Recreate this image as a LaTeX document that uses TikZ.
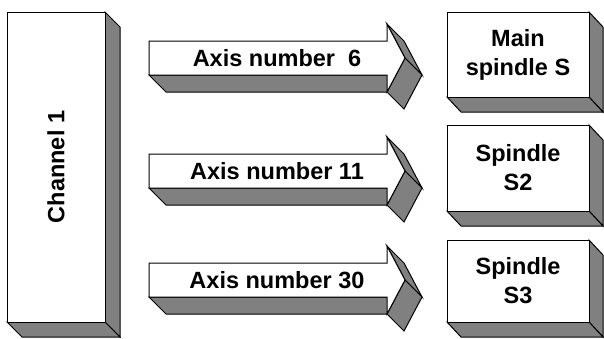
\documentclass[tikz,border=0pt]{standalone}
\usepackage{fontspec}
\setmainfont{Liberation Sans}
\usepackage{tikz}
\definecolor{sidegray}{RGB}{128,128,128}

\begin{document}
\begin{tikzpicture}[x=1pt, y=-1pt,
		frontface/.style={draw=black, fill=white, line width=1pt},
		sideface/.style={draw=black, fill=sidegray, line width=1pt},
		boldtext/.style={font=\fontsize{23.5}{29}\selectfont\bfseries, align=center, inner sep=0pt}]
		
		\useasboundingbox (0,0) rectangle (604,338);
		
		% Channel block (front face with its right and bottom sides)
		\draw[sideface] (105,12) -- (120,27) -- (120,337) -- (105,322) -- cycle;
		\draw[sideface] (7,322) -- (105,322) -- (120,337) -- (22,337) -- cycle;
		\draw[frontface] (7,12) rectangle (105,322);
		\node[boldtext, rotate=90] (chan) at (56,167) {Channel 1};
		
		% Arrows, one per axis
		\foreach \c/\txt [count=\i] in {58/{Axis number\ \ 6}, 171/{Axis number 11}, 280/{Axis number 30}}{
			% bottom of the shaft
			\draw[sideface] (149,\c+17) -- (387,\c+17) -- (404,\c+34) -- (166,\c+34) -- cycle;
			% the two sides of the head
			\draw[sideface] (387,\c-34) -- (404,\c-17) -- (422,\c+17) -- (405,\c) -- cycle;
			\draw[sideface] (405,\c) -- (422,\c+17) -- (404,\c+51) -- (387,\c+34) -- cycle;
			% front
			\draw[frontface] (149,\c-17) -- (387,\c-17) -- (387,\c-34) -- (405,\c)
				-- (387,\c+34) -- (387,\c+17) -- (149,\c+17) -- cycle;
			\node[boldtext] (axis\i) at (277,\c) {\txt};
		}
		
		% Spindle blocks
		\foreach \t/\b/\txt [count=\i] in {12/97/{Main\\spindle S}, 125/211/{Spindle\\S2}, 240/322/{Spindle\\S3}}{
			\draw[sideface] (589,\t) -- (603,\t+15) -- (603,\b+15) -- (589,\b) -- cycle;
			\draw[sideface] (447,\b) -- (589,\b) -- (603,\b+15) -- (461,\b+15) -- cycle;
			\draw[frontface] (447,\t) rectangle (589,\b);
			\node[boldtext] (spindle\i) at (518,{(\t+\b)/2}) {\txt};
		}
	\end{tikzpicture}
\end{document}
